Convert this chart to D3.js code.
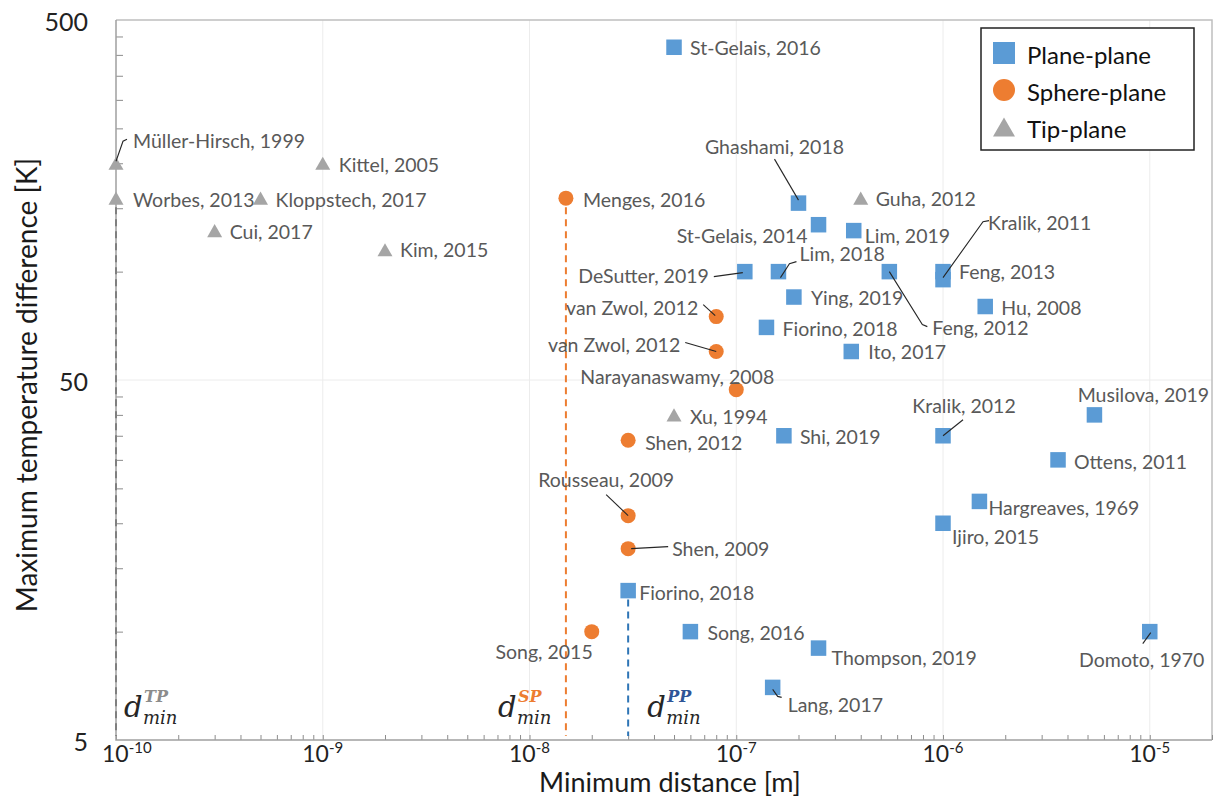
<!DOCTYPE html>
<html>
<head>
<meta charset="utf-8">
<script src="https://cdn.jsdelivr.net/npm/d3@7.9.0/dist/d3.min.js"></script>
<style>
  body { margin: 0; background: #fff; }
  svg { display: block; font-family: Lato, "Open Sans", sans-serif; }
  .gridlines line { stroke: #ececec; stroke-width: 1; }
  .minor line { stroke: #8c8c8c; stroke-width: 1; }
  .minor path { display: none; }
  .pt-label { fill: #595959; font-size: 19.5px; }
  .leader { fill: none; stroke: #262626; stroke-width: 1.1; }
</style>
</head>
<body>
<div id="chart"></div>
<script>
// Plane-plane
const planeNames = ['St-Gelais, 2016', 'Ghashami, 2018', 'St-Gelais, 2014', 'Lim, 2019', 'DeSutter, 2019',
  'Lim, 2018', 'Feng, 2012', 'Feng, 2013', 'Kralik, 2011', 'Ying, 2019', 'Hu, 2008', 'Fiorino, 2018',
  'Ito, 2017', 'Musilova, 2019', 'Kralik, 2012', 'Shi, 2019', 'Ottens, 2011', 'Hargreaves, 1969',
  'Ijiro, 2015', 'Fiorino, 2018', 'Song, 2016', 'Thompson, 2019', 'Lang, 2017', 'Domoto, 1970'];
const planeDist = [5e-8, 2e-7, 2.5e-7, 3.7e-7, 1.1e-7, 1.6e-7, 5.5e-7, 1e-6, 1e-6, 1.9e-7, 1.6e-6, 1.4e-7,
  3.6e-7, 5.4e-6, 1e-6, 1.7e-7, 3.6e-6, 1.5e-6, 1e-6, 3e-8, 6e-8, 2.5e-7, 1.5e-7, 1e-5];
const planeDT = [420, 155, 135, 130, 100, 100, 100, 100, 95, 85, 80, 70,
  60, 40, 35, 35, 30, 23, 20, 13, 10, 9, 7, 10];

// Sphere-plane
const sphereNames = ['Menges, 2016', 'van Zwol, 2012', 'van Zwol, 2012', 'Narayanaswamy, 2008',
  'Shen, 2012', 'Rousseau, 2009', 'Shen, 2009', 'Song, 2015'];
const sphereDist = [1.5e-8, 8e-8, 8e-8, 1e-7, 3e-8, 3e-8, 3e-8, 2e-8];
const sphereDT = [160, 75, 60, 47, 34, 21, 17, 10];

// Tip-plane
const tipNames = ['Müller-Hirsch, 1999', 'Kittel, 2005', 'Worbes, 2013', 'Kloppstech, 2017',
  'Cui, 2017', 'Kim, 2015', 'Guha, 2012', 'Xu, 1994'];
const tipDist = [1e-10, 1e-9, 1e-10, 5e-10, 3e-10, 2e-9, 4e-7, 5e-8];
const tipDT = [200, 200, 160, 160, 130, 115, 160, 40];

const seriesNames = ['Plane-plane', 'Sphere-plane', 'Tip-plane'];
const xTickValues = [1e-10, 1e-9, 1e-8, 1e-7, 1e-6, 1e-5];
const xTickExp = ['-10', '-9', '-8', '-7', '-6', '-5'];
const yTickValues = [5, 50, 500];
// minimum distance markers: [kind, distance, starting temperature difference]
const dminLines = [['TP', 1e-10, 160], ['SP', 1.5e-8, 160], ['PP', 3e-8, 13]];

// label placement (px offsets from the marker) and leader lines
const labelLayout = {
  plane: [[16,0],[-24,-57,'middle'],[-11,11,'end'],[11,5],[-36,4,'end'],[21,-18],[43,56],[16,0],
    [45,-57],[17,0],[16,1],[16,1],[17,0],[49,-20,'middle'],[21,-30,'middle'],[16,1],[16,2],[9,6],
    [9,13],[11,2],[17,1],[13,9],[15,17],[-8,28,'middle']],
  sphere: [[17,1],[-18,-9,'end'],[-36,-7,'end'],[-59,-13,'middle'],[17,2],[-22,-36,'middle'],[44,0],[1,20,'end']],
  tip: [[17,-23],[16,1],[17,1],[15,1],[15,1],[15,0],[15,0],[16,2]]
};
const leaders = {
  'tip-0': [[0,-2],[7,-22],[11,-24]],
  'sphere-1': [[-13,-12],[-1,-1]],
  'sphere-2': [[-31,-9],[0,0]],
  'sphere-5': [[-22,-21],[0,0]],
  'sphere-6': [[3,0],[40,-2]],
  'plane-1': [[-24,-44],[0,-3]],
  'plane-4': [[-31,5],[-2,1]],
  'plane-5': [[2,6],[11,-8],[18,-10]],
  'plane-6': [[0,0],[33,53],[38,55]],
  'plane-8': [[0,-2],[40,-58],[46,-59]],
  'plane-14': [[20,-16],[0,0]],
  'plane-22': [[0,2],[5,9],[9,10]],
  'plane-23': [[1,1],[-7,12]]
};

const colors = { plane: '#5b9bd5', sphere: '#ed7d31', tip: '#a5a5a5' };
const dminColors = { TP: '#8c8c8c', SP: '#ed7d31', PP: '#2f5597' };
const dashColors = { TP: '#7f7f7f', SP: '#ed7d31', PP: '#2e75b6' };

function drawMarker(g, kind, cx, cy, s) {
  if (kind === 'plane') {
    g.append('rect').attr('x', cx - s / 2).attr('y', cy - s / 2)
      .attr('width', s).attr('height', s).attr('fill', colors.plane);
  } else if (kind === 'sphere') {
    g.append('circle').attr('cx', cx).attr('cy', cy).attr('r', s / 2).attr('fill', colors.sphere);
  } else {
    const h = s * 0.87;
    g.append('path')
      .attr('d', `M${cx},${cy - h / 2}L${cx + s / 2},${cy + h / 2}L${cx - s / 2},${cy + h / 2}Z`)
      .attr('fill', colors.tip);
  }
}

function renderChart() {
  const width = 1215;
  const height = 799;
  const margin = { top: 20, right: 3, bottom: 59, left: 116 };

  const svg = d3.select('#chart').append('svg')
    .attr('width', width).attr('height', height);

  const x = d3.scaleLog().domain([1e-10, 2e-5]).range([margin.left, width - margin.right]);
  const y = d3.scaleLog().domain([5, 500]).range([height - margin.bottom, margin.top]);
  const [x0, x1] = x.range();
  const [y0, y1] = y.range();

  // gridlines
  const grid = svg.append('g').attr('class', 'gridlines');
  grid.selectAll('.gx').data(xTickValues.slice(1)).join('line')
    .attr('x1', d => x(d)).attr('x2', d => x(d)).attr('y1', y1).attr('y2', y0);
  grid.append('line').attr('x1', x0).attr('x2', x1).attr('y1', y(50)).attr('y2', y(50));

  // plot border (top/right)
  svg.append('path').attr('d', `M${x0},${y1}H${x1}V${y0}`)
    .attr('fill', 'none').attr('stroke', '#bfbfbf').attr('stroke-width', 1.5);

  // minor ticks, pointing inward
  const xMinor = x.ticks(60).filter(d => d >= 1e-10 && d <= 2e-5);
  svg.append('g').attr('class', 'minor')
    .attr('transform', `translate(0,${y0})`)
    .call(d3.axisBottom(x).tickValues(xMinor).tickSize(-5).tickFormat(''));
  const yMinor = d3.range(10, 50, 5).concat(d3.range(100, 500, 50));
  svg.append('g').attr('class', 'minor')
    .attr('transform', `translate(${x0},0)`)
    .call(d3.axisLeft(y).tickValues(yMinor).tickSize(-7).tickFormat(''));

  // axis lines
  svg.append('path').attr('d', `M${x0},${y1}V${y0}H${x1}`)
    .attr('fill', 'none').attr('stroke', '#a0a0a0').attr('stroke-width', 1.5);

  // y tick labels
  svg.append('g').selectAll('text').data(yTickValues).join('text')
    .attr('x', 88).attr('y', d => y(d) + 1)
    .attr('text-anchor', 'end').attr('dominant-baseline', 'central')
    .attr('font-size', 25).attr('fill', '#222')
    .text(d => d);

  // x tick labels as 10^n
  const xl = svg.append('g').selectAll('text').data(xTickValues).join('text')
    .attr('x', (d, i) => i === 0 ? x(d) - 14 : x(d))
    .attr('y', y0 + 22)
    .attr('text-anchor', (d, i) => i === 0 ? 'start' : 'middle')
    .attr('fill', '#222');
  xl.append('tspan').attr('font-size', 23).text('10');
  xl.append('tspan').attr('font-size', 15).attr('dy', -9).text((d, i) => xTickExp[i]);

  // axis titles
  svg.append('text').attr('x', 670).attr('y', 792)
    .attr('text-anchor', 'middle').attr('font-size', 27).attr('fill', '#1a1a1a')
    .text('Minimum distance [m]');
  svg.append('text').attr('transform', 'translate(37,385) rotate(-90)')
    .attr('text-anchor', 'middle').attr('font-size', 28).attr('fill', '#1a1a1a')
    .text('Maximum temperature difference [K]');

  // dashed d_min lines
  svg.append('g').selectAll('line').data(dminLines).join('line')
    .attr('x1', d => x(d[1])).attr('x2', d => x(d[1]))
    .attr('y1', d => y(d[2]) + 9).attr('y2', y0 - 4)
    .attr('stroke', d => dashColors[d[0]])
    .attr('stroke-width', 2).attr('stroke-dasharray', '7,5');

  // d_min annotations
  const dOffset = { TP: 8, SP: -68, PP: 19 };
  const dm = svg.append('g').selectAll('g').data(dminLines).join('g')
    .attr('transform', d => `translate(${x(d[1]) + dOffset[d[0]]},0)`)
    .attr('font-family', '"DejaVu Serif", serif').attr('font-style', 'italic');
  dm.append('text').attr('y', 717).attr('font-size', 29).attr('fill', '#262626').text('d');
  dm.append('text').attr('x', 19).attr('y', 724).attr('font-size', 18).attr('fill', '#262626').text('min');
  dm.append('text').attr('x', 20).attr('y', 702)
    .attr('font-size', 16).attr('font-weight', 'bold')
    .attr('fill', d => dminColors[d[0]]).text(d => d[0]);

  const series = [
    ['plane', planeNames, planeDist, planeDT],
    ['sphere', sphereNames, sphereDist, sphereDT],
    ['tip', tipNames, tipDist, tipDT]
  ];

  const marks = svg.append('g');
  const lines = svg.append('g');
  const labels = svg.append('g');

  series.forEach(([kind, names, dist, dt]) => {
    names.forEach((name, i) => {
      const cx = x(dist[i]);
      const cy = y(dt[i]);
      drawMarker(marks, kind, cx, cy, kind === 'plane' ? 15.5 : 15);

      const [dx, dy, anchor] = labelLayout[kind][i];
      labels.append('text').attr('class', 'pt-label')
        .attr('x', cx + dx).attr('y', cy + dy)
        .attr('text-anchor', anchor || 'start')
        .attr('dominant-baseline', 'central')
        .text(name);

      const pts = leaders[`${kind}-${i}`];
      if (pts) {
        lines.append('path').attr('class', 'leader')
          .attr('d', d3.line()(pts.map(p => [cx + p[0], cy + p[1]])));
      }
    });
  });

  // legend
  const lg = svg.append('g').attr('transform', 'translate(981,28)');
  lg.append('rect').attr('width', 213).attr('height', 122)
    .attr('fill', '#fff').attr('stroke', '#222').attr('stroke-width', 1.5);
  const kinds = ['plane', 'sphere', 'tip'];
  seriesNames.forEach((name, i) => {
    const cy = 25 + i * 37;
    drawMarker(lg, kinds[i], 23, cy, 22);
    lg.append('text').attr('x', 46).attr('y', cy + 1)
      .attr('dominant-baseline', 'central')
      .attr('font-size', 24).attr('fill', '#111')
      .text(name);
  });
}

renderChart();
</script>
</body>
</html>
